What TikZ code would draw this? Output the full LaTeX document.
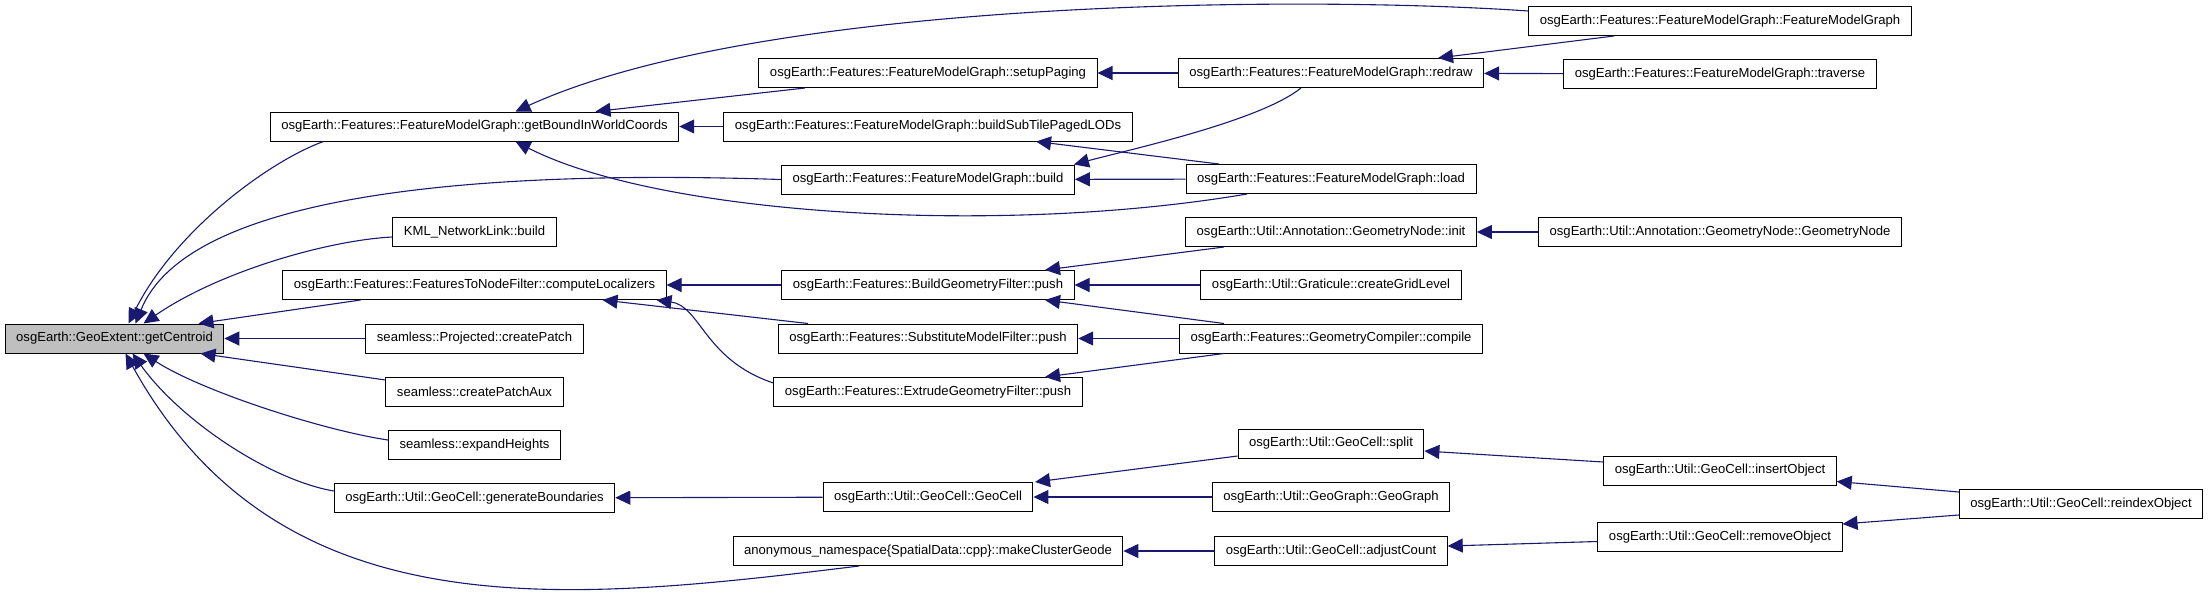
\documentclass[tikz,border=0pt]{standalone}
\usepackage{fontspec}
\setmainfont{Liberation Sans}
\usetikzlibrary{arrows.meta}

\definecolor{calledge}{RGB}{25,25,112}
\definecolor{focusgrey}{RGB}{191,191,191}

\tikzset{
    fn/.style={draw=black, line width=1pt, fill=white, inner xsep=11pt, inner ysep=0pt,
        minimum height=29pt, font=\fontsize{13.1}{15}\selectfont},
    focus/.style={fn, fill=focusgrey},
    tip/.tip={Triangle[length=15pt,width=14pt]},
    call/.style={draw=calledge, line width=1.1pt, -tip}
}

\begin{document}
\begin{tikzpicture}[x=1pt,y=-1pt]
    \useasboundingbox (0,0) rectangle (2208,595);

    % column centres
    \def\ca{474.5}
    \def\cb{928}
    \def\cc{1331}
    \def\cd{1720}

% --------------------
% the function itself
% --------------------
\node[focus] (centroid) at (114.5,338.5) {osgEarth::GeoExtent::getCentroid};

% --------------------
% first column
% --------------------
\node[fn] (getbound)      at (\ca,126.5) {osgEarth::Features::FeatureModelGraph::getBoundInWorldCoords};
\node[fn] (kmlbuild)      at (\ca,232)   {KML\_NetworkLink::build};
\node[fn] (localizers)    at (\ca,285)   {osgEarth::Features::FeaturesToNodeFilter::computeLocalizers};
\node[fn] (createpatch)   at (\ca,338.5) {seamless::Projected::createPatch};
\node[fn] (patchaux)      at (\ca,392)   {seamless::createPatchAux};
\node[fn] (expandheights) at (\ca,445)   {seamless::expandHeights};
\node[fn] (genbounds)     at (\ca,498)   {osgEarth::Util::GeoCell::generateBoundaries};

% --------------------
% second column
% --------------------
\node[fn] (setuppaging)  at (\cb,73)    {osgEarth::Features::FeatureModelGraph::setupPaging};
\node[fn] (subtilelods)  at (\cb,126.5) {osgEarth::Features::FeatureModelGraph::buildSubTilePagedLODs};
\node[fn] (fmgbuild)     at (\cb,179.5) {osgEarth::Features::FeatureModelGraph::build};
\node[fn] (buildpush)    at (\cb,285)   {osgEarth::Features::BuildGeometryFilter::push};
\node[fn] (substpush)    at (\cb,338.5) {osgEarth::Features::SubstituteModelFilter::push};
\node[fn] (extrudepush)  at (\cb,392)   {osgEarth::Features::ExtrudeGeometryFilter::push};
\node[fn] (geocell)      at (\cb,497)   {osgEarth::Util::GeoCell::GeoCell};
\node[fn] (clustergeode) at (\cb,551)   {anonymous\_namespace\{SpatialData::cpp\}::makeClusterGeode};

% --------------------
% third column
% --------------------
\node[fn] (redraw)      at (\cc,73)    {osgEarth::Features::FeatureModelGraph::redraw};
\node[fn] (fmgload)     at (\cc,179)   {osgEarth::Features::FeatureModelGraph::load};
\node[fn] (nodeinit)    at (\cc,232)   {osgEarth::Util::Annotation::GeometryNode::init};
\node[fn] (gridlevel)   at (\cc,285)   {osgEarth::Util::Graticule::createGridLevel};
\node[fn] (compile)     at (\cc,338.5) {osgEarth::Features::GeometryCompiler::compile};
\node[fn] (split)       at (\cc,443.5) {osgEarth::Util::GeoCell::split};
\node[fn] (geograph)    at (\cc,497)   {osgEarth::Util::GeoGraph::GeoGraph};
\node[fn] (adjustcount) at (\cc,551)   {osgEarth::Util::GeoCell::adjustCount};

% --------------------
% fourth and fifth column
% --------------------
\node[fn] (fmgctor)   at (\cd,21)    {osgEarth::Features::FeatureModelGraph::FeatureModelGraph};
\node[fn] (traverse)  at (\cd,74)    {osgEarth::Features::FeatureModelGraph::traverse};
\node[fn] (nodector)  at (\cd,232)   {osgEarth::Util::Annotation::GeometryNode::GeometryNode};
\node[fn] (insertobj) at (\cd,470.5) {osgEarth::Util::GeoCell::insertObject};
\node[fn] (removeobj) at (\cd,537)   {osgEarth::Util::GeoCell::removeObject};
\node[fn] (reindex)   at (2081,504)  {osgEarth::Util::GeoCell::reindexObject};

% --------------------
% straight calls on one row
% --------------------
\foreach \a/\b in {createpatch/centroid, subtilelods/getbound, redraw/setuppaging,
    traverse/redraw, fmgload/fmgbuild, buildpush/localizers, gridlevel/buildpush,
    nodector/nodeinit, compile/substpush, geocell/genbounds, geograph/geocell,
    adjustcount/clustergeode}
    \draw[call] (\a) -- (\b);

% --------------------
% slanted calls
% --------------------
\draw[call] ([xshift=-114pt]localizers.south) -- ([xshift=84pt]centroid.north);
\draw[call] ([yshift=12pt]patchaux.west) -- ([xshift=86pt]centroid.south);
\draw[call] ([xshift=-123pt]setuppaging.south) -- ([xshift=121pt]getbound.north);
\draw[call] ([xshift=-106pt]fmgctor.south) -- ([xshift=107pt]redraw.north);
\draw[call] ([xshift=-112pt]fmgload.north) -- ([xshift=108pt]subtilelods.south);
\draw[call] ([xshift=-120pt]substpush.north) -- ([xshift=128pt]localizers.south);
\draw[call] ([xshift=-107pt]nodeinit.south) -- ([xshift=117pt]buildpush.north);
\draw[call] ([xshift=-107pt]compile.north) -- ([xshift=117pt]buildpush.south);
\draw[call] ([xshift=-107pt]compile.south) -- ([xshift=117pt]extrudepush.north);
\draw[call] ([yshift=-12.5pt]split.west) -- ([xshift=107pt]geocell.north);
\draw[call] ([yshift=8.5pt]insertobj.west) -- ([yshift=-7.5pt]split.east);
\draw[call] ([yshift=-4.5pt]removeobj.west) -- ([yshift=5pt]adjustcount.east);
\draw[call] ([yshift=12pt]reindex.west) -- ([yshift=-11pt]insertobj.east);
\draw[call] ([yshift=-11pt]reindex.west) -- ([yshift=13pt]removeobj.east);

% --------------------
% curved calls
% --------------------
\draw[call] ([xshift=-151pt]getbound.south) .. controls +(-53,19) and +(47,-94) .. ([xshift=14pt]centroid.north);
\draw[call] (fmgbuild.west) .. controls +(-332,-11) and +(50,-124) .. ([xshift=21pt]centroid.north);
\draw[call] ([yshift=-5pt]kmlbuild.west) .. controls +(-62,3) and +(77,-53) .. ([xshift=29pt]centroid.north);
\draw[call] ([yshift=5pt]expandheights.west) .. controls +(-67,-10) and +(57,37) .. ([xshift=29pt]centroid.south);
\draw[call] ([yshift=7pt]genbounds.west) .. controls +(-64,-11) and +(48,67) .. ([xshift=18pt]centroid.south);
\draw[call] ([xshift=-69pt]clustergeode.south) .. controls +(-300,37) and +(154,278) .. ([xshift=11pt]centroid.south);

\draw[call] ([yshift=10pt]fmgctor.west) .. controls +(-231,-16) and +(245,-112) .. ([xshift=41pt]getbound.north);
\draw[call] ([xshift=-84pt]fmgload.south) .. controls +(-247,42) and +(145,74) .. ([xshift=41pt]getbound.south);
\draw[call] ([xshift=-30pt]redraw.south) .. controls +(-41,33) and +(56,-15) .. ([xshift=146pt]fmgbuild.north);
\draw[call] ([yshift=9pt]extrudepush.west) .. controls +(-69,-23) and +(44,6) .. ([xshift=182pt]localizers.south);

\end{tikzpicture}
\end{document}
